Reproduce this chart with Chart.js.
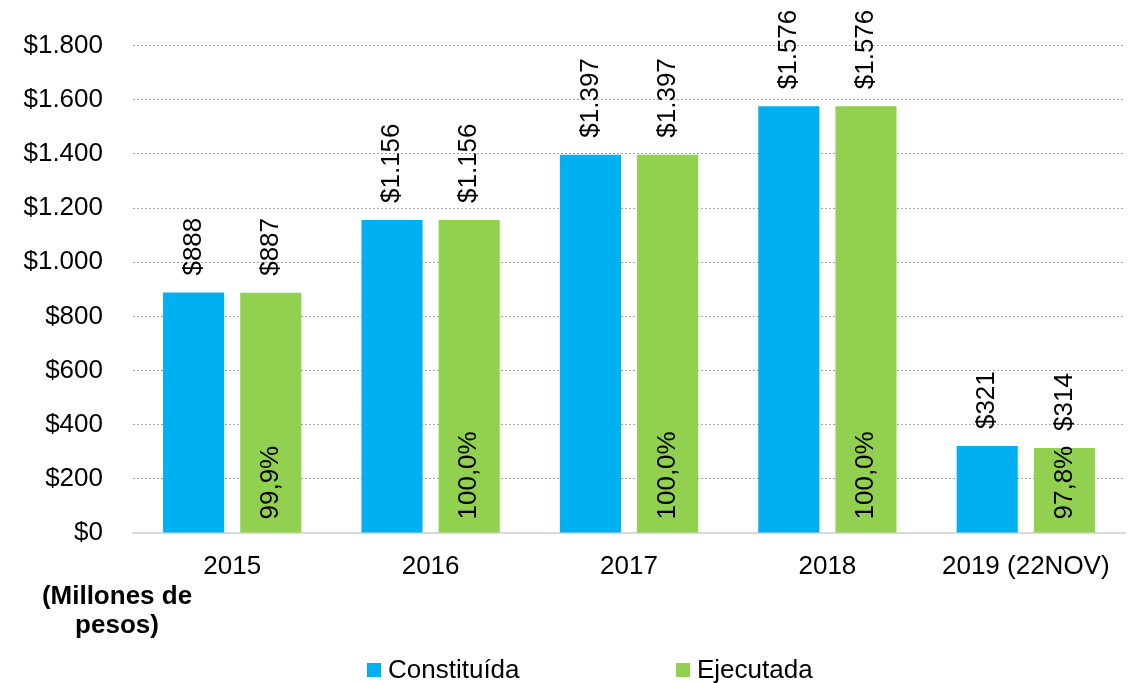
<!DOCTYPE html>
<html>
<head>
<meta charset="utf-8">
<script src="https://cdn.jsdelivr.net/npm/chart.js@4.4.1/dist/chart.umd.min.js"></script>
<style>
  html, body { margin: 0; padding: 0; background: #fff; }
  #wrap { position: relative; width: 1142px; height: 683px; font-family: "Liberation Sans", Arial, sans-serif; }
  #unidad { position: absolute; left: 17px; top: 581px; width: 200px; text-align: center; font-weight: bold; font-size: 26px; line-height: 29px; color: #000; }
  .ley { position: absolute; top: 654px; font-size: 26px; line-height: 30px; color: #000; white-space: nowrap; }
  .ley i { display: inline-block; width: 14px; height: 14px; margin-right: 7px; vertical-align: 1px; }
</style>
</head>
<body>
<div id="wrap">
  <canvas id="grafico" width="1142" height="683"></canvas>
  <div id="unidad">(Millones de<br>pesos)</div>
  <div class="ley" style="left:367px"><i style="background:#00B0F0"></i>Constituída</div>
  <div class="ley" style="left:676px"><i style="background:#92D050"></i>Ejecutada</div>
</div>
<script>
// datos
const anios = ['2015', '2016', '2017', '2018', '2019 (22NOV)'];
const constituida = [888, 1156, 1397, 1576, 321];
const ejecutada = [887, 1156, 1397, 1576, 314];
const porcentajes = ['99,9%', '100,0%', '100,0%', '100,0%', '97,8%'];

const AZUL = '#00B0F0';
const VERDE = '#92D050';
const FUENTE = '"Liberation Sans", Arial, sans-serif';

function formatoPesos(v) {
    return '$' + v.toString().replace(/\B(?=(\d{3})+(?!\d))/g, '.');
}

// etiquetas giradas encima de las barras y % dentro de la verde
const etiquetas = {
    id: 'etiquetas',
    afterDatasetsDraw(chart) {
        const ctx = chart.ctx;
        ctx.save();
        ctx.fillStyle = '#000';
        ctx.font = '26px ' + FUENTE;
        ctx.textBaseline = 'middle';
        ctx.textAlign = 'left';
        chart.data.datasets.forEach((ds, i) => {
            const meta = chart.getDatasetMeta(i);
            meta.data.forEach((bar, j) => {
                ctx.save();
                ctx.translate(bar.x, bar.y - 17);
                ctx.rotate(-Math.PI / 2);
                ctx.fillText(formatoPesos(ds.data[j]), 0, 0);
                ctx.restore();
                if (i === 1) {
                    ctx.save();
                    ctx.translate(bar.x, bar.base - 13);
                    ctx.rotate(-Math.PI / 2);
                    ctx.fillText(porcentajes[j], 0, 0);
                    ctx.restore();
                }
            });
        });
        ctx.restore();
    }
};

new Chart(document.getElementById('grafico').getContext('2d'), {
    type: 'bar',
    data: {
        labels: anios,
        datasets: [{
            label: 'Constituída',
            data: constituida,
            backgroundColor: AZUL,
            categoryPercentage: 0.778,
            barPercentage: 0.792
        }, {
            label: 'Ejecutada',
            data: ejecutada,
            backgroundColor: VERDE,
            categoryPercentage: 0.778,
            barPercentage: 0.792
        }]
    },
    options: {
        responsive: false,
        animation: false,
        layout: { padding: { left: 22, right: 17, top: 44, bottom: 103 } },
        scales: {
            x: {
                grid: { display: false },
                border: { display: true, color: '#d9d9d9', width: 2 },
                ticks: { color: '#000', font: { family: FUENTE, size: 26 }, padding: 10 },
                afterFit: s => { s.height = 47; }
            },
            y: {
                min: 0,
                max: 1800,
                ticks: {
                    stepSize: 200,
                    color: '#000',
                    padding: 30,
                    font: { family: FUENTE, size: 26 },
                    callback: v => formatoPesos(v)
                },
                grid: {
                    drawTicks: false,
                    color: ctx => ctx.tick && ctx.tick.value === 0 ? 'rgba(0,0,0,0)' : '#a6a6a6'
                },
                border: { display: false, dash: [2, 2] },
                afterFit: s => { s.width = 111; }
            }
        },
        plugins: {
            legend: { display: false },
            tooltip: { enabled: false }
        }
    },
    plugins: [etiquetas]
});
</script>
</body>
</html>
